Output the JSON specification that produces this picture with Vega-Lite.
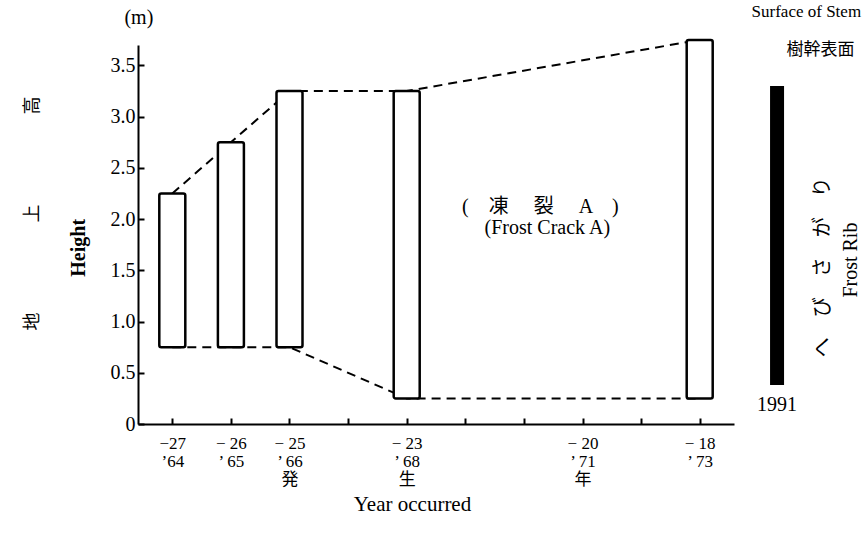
{
  "$schema": "https://vega.github.io/schema/vega-lite/v6.json",
  "width": 596,
  "height": 379,
  "autosize": {"type": "none"},
  "padding": {"left": 138, "top": 45, "right": 131, "bottom": 110},
  "background": "white",
  "config": {
    "view": {"stroke": null},
    "font": "Liberation Serif, Noto Sans CJK JP",
    "text": {"font": "Liberation Serif, Noto Sans CJK JP", "fontSize": 20, "color": "black"}
  },
  "datasets": {
    "links": [
      {"edge": "top", "year": -27, "h": 2.25},
      {"edge": "top", "year": -26, "h": 2.75},
      {"edge": "top", "year": -25, "h": 3.25},
      {"edge": "top", "year": -23, "h": 3.25},
      {"edge": "top", "year": -18, "h": 3.75},
      {"edge": "bottom", "year": -27, "h": 0.75},
      {"edge": "bottom", "year": -26, "h": 0.75},
      {"edge": "bottom", "year": -25, "h": 0.75},
      {"edge": "bottom", "year": -23, "h": 0.25},
      {"edge": "bottom", "year": -18, "h": 0.25}
    ],
    "cracks": [
      {"year": -27, "low": 0.75, "high": 2.25},
      {"year": -26, "low": 0.75, "high": 2.75},
      {"year": -25, "low": 0.75, "high": 3.25},
      {"year": -23, "low": 0.25, "high": 3.25},
      {"year": -18, "low": 0.25, "high": 3.75}
    ],
    "rib": [
      {"year": -16.68, "low": 0.38, "high": 3.3}
    ],
    "notes": [
      {"note": "(m)", "px": -27.57, "py": 3.96},
      {"note": "(　凍　 裂　 A　)", "px": -20.72, "py": 2.12},
      {"note": "(Frost Crack A)", "px": -20.6, "py": 1.91},
      {"note": "1991", "px": -16.68, "py": 0.19}
    ],
    "smallnotes": [
      {"note": "Surface of Stem", "px": -16.18, "py": 4.02},
      {"note": "樹幹表面", "px": -15.94, "py": 3.65}
    ],
    "vnotes": [
      {"note": "へ　び　さ　が　り", "px": -15.9, "py": 1.53},
      {"note": "Frost Rib", "px": -15.42, "py": 1.6}
    ],
    "ynote": [
      {"note": "Height", "px": -28.6, "py": 1.72}
    ]
  },
  "layer": [
    {
      "data": {"name": "links"},
      "mark": {"type": "line", "color": "black", "strokeWidth": 2, "strokeDash": [9, 6]},
      "encoding": {
        "x": {
          "field": "year", "type": "quantitative",
          "scale": {"domain": [-27.5, -17.5], "nice": false, "zero": false},
          "axis": {
            "values": [-27, -26, -25, -24, -23, -22, -21, -20, -19, -18],
            "labelExpr": "datum.value == -27 ? ['−27', '’64'] : datum.value == -26 ? ['− 26', '’ 65'] : datum.value == -25 ? ['− 25', '’ 66', '発'] : datum.value == -23 ? ['− 23', '’ 68', '生'] : datum.value == -20 ? ['− 20', '’ 71', '年'] : datum.value == -18 ? ['− 18', '’ 73'] : ''",
            "grid": false,
            "domainColor": "black", "domainWidth": 2,
            "tickColor": "black", "tickWidth": 2, "tickSize": -6,
            "labelFont": "Liberation Serif, Noto Sans CJK JP", "labelFontSize": 17, "labelColor": "black",
            "labelPadding": 17, "labelLineHeight": 18, "labelFlush": false, "labelOverlap": false,
            "title": "Year occurred",
            "titleFont": "Liberation Serif", "titleFontSize": 21, "titleFontWeight": "normal", "titleColor": "black",
            "titleX": 274, "titleY": 86, "titleAlign": "center", "titleBaseline": "alphabetic"
          }
        },
        "y": {
          "field": "h", "type": "quantitative",
          "scale": {"domain": [0, 3.7], "nice": false},
          "axis": {
            "values": [0, 0.5, 1, 1.5, 2, 2.5, 3, 3.5],
            "labelExpr": "datum.value == 0 ? '0' : format(datum.value, '.1f')",
            "grid": false,
            "domainColor": "black", "domainWidth": 2,
            "tickColor": "black", "tickWidth": 2, "tickSize": -6,
            "labelFont": "Liberation Serif", "labelFontSize": 20, "labelColor": "black",
            "labelPadding": 9, "labelFlush": false, "labelOverlap": false,
            "title": "地　　　　　上　　　　　高",
            "titleFont": "Liberation Serif, Noto Sans CJK JP", "titleFontSize": 18, "titleFontWeight": "normal", "titleColor": "black",
            "titleAngle": 270, "titleX": -101, "titleY": 168, "titleAlign": "center", "titleBaseline": "alphabetic"
          }
        },
        "detail": {"field": "edge"}
      }
    },
    {
      "data": {"name": "cracks"},
      "mark": {"type": "bar", "size": 26, "fill": "white", "stroke": "black", "strokeWidth": 2.5, "cornerRadius": 2},
      "encoding": {
        "x": {"field": "year", "type": "quantitative"},
        "y": {"field": "low", "type": "quantitative"},
        "y2": {"field": "high"}
      }
    },
    {
      "data": {"name": "rib"},
      "mark": {"type": "bar", "size": 14, "fill": "black"},
      "encoding": {
        "x": {"field": "year", "type": "quantitative"},
        "y": {"field": "low", "type": "quantitative"},
        "y2": {"field": "high"}
      }
    },
    {
      "data": {"name": "notes"},
      "mark": {"type": "text", "align": "center", "baseline": "middle"},
      "encoding": {
        "x": {"field": "px", "type": "quantitative"},
        "y": {"field": "py", "type": "quantitative"},
        "text": {"field": "note"}
      }
    },
    {
      "data": {"name": "smallnotes"},
      "mark": {"type": "text", "align": "center", "baseline": "middle", "fontSize": 17},
      "encoding": {
        "x": {"field": "px", "type": "quantitative"},
        "y": {"field": "py", "type": "quantitative"},
        "text": {"field": "note"}
      }
    },
    {
      "data": {"name": "vnotes"},
      "mark": {"type": "text", "align": "center", "baseline": "middle", "angle": 270},
      "encoding": {
        "x": {"field": "px", "type": "quantitative"},
        "y": {"field": "py", "type": "quantitative"},
        "text": {"field": "note"}
      }
    },
    {
      "data": {"name": "ynote"},
      "mark": {"type": "text", "align": "center", "baseline": "middle", "angle": 270, "fontWeight": "bold", "fontSize": 20},
      "encoding": {
        "x": {"field": "px", "type": "quantitative"},
        "y": {"field": "py", "type": "quantitative"},
        "text": {"field": "note"}
      }
    }
  ]
}
